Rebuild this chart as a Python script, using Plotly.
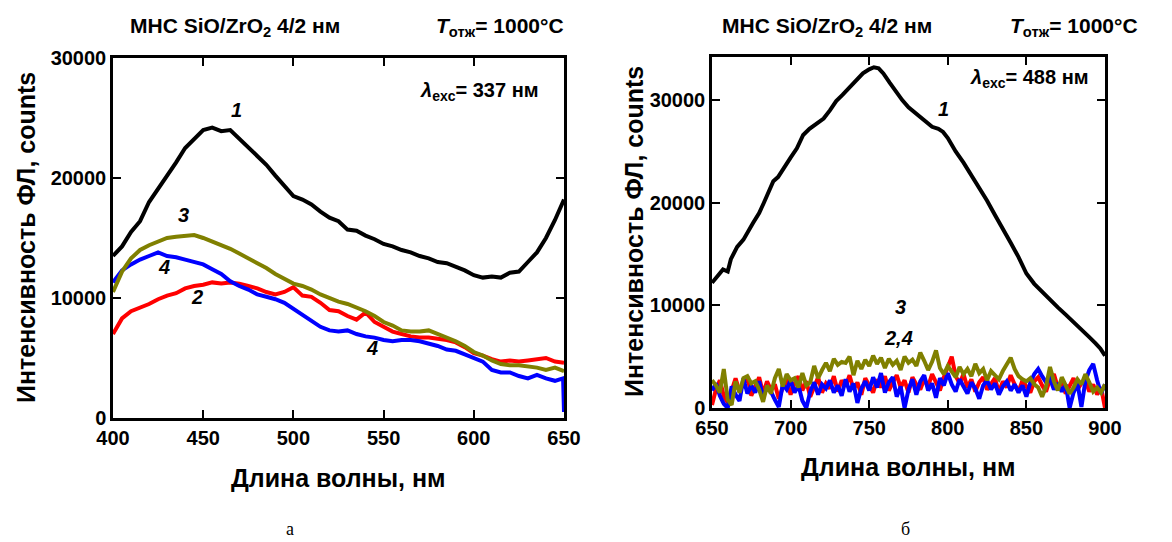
import plotly.graph_objects as go

# ---------------- data: panel a (excitation 337 nm) ----------------
wl_a = [400, 405, 410, 415, 420, 425, 430, 435, 440, 445, 450, 455, 460, 465, 470,
        475, 480, 485, 490, 495, 500, 505, 510, 515, 520, 525, 530, 535, 540, 545,
        550, 555, 560, 565, 570, 575, 580, 585, 590, 595, 600, 605, 610, 615, 620,
        625, 630, 635, 640, 645, 650]
a_curve1 = [13500, 14300, 15500, 16400, 18000, 19100, 20100, 21300, 22500, 23300, 24000,
            24200, 23900, 24000, 23300, 22600, 21900, 21100, 20200, 19300, 18500, 18200,
            17800, 17200, 16700, 16400, 15700, 15600, 15200, 14900, 14500, 14300, 14000,
            13800, 13500, 13300, 13000, 12900, 12600, 12300, 11900, 11700, 11800, 11700,
            12100, 12200, 13000, 13800, 15000, 16500, 18200]
a_curve2 = [7000, 8300, 8900, 9200, 9500, 9900, 10200, 10400, 10800, 11000, 11100, 11300,
            11200, 11300, 11200, 11000, 10800, 10500, 10300, 10500, 10900, 10200, 10100,
            9600, 9000, 8900, 8500, 8200, 8800, 8000, 7600, 7200, 7000, 6800, 6700, 6700,
            6600, 6500, 6300, 5900, 5400, 5200, 4900, 4700, 4800, 4700, 4800, 4900, 5000,
            4700, 4600]
a_curve3 = [10500, 12200, 13300, 14000, 14400, 14700, 15000, 15100, 15200, 15250, 15000,
            14700, 14400, 14100, 13700, 13300, 12900, 12500, 12000, 11600, 11200, 11000,
            10700, 10300, 10000, 9700, 9500, 9200, 8900, 8500, 8000, 7700, 7300, 7200,
            7200, 7300, 7000, 6700, 6400, 6000, 5500, 5200, 4800, 4500, 4400, 4400, 4300,
            4200, 4000, 4200, 3900]
wl_a4 = wl_a[:-1] + [649.5, 650]
a_curve4 = [11300, 12300, 12800, 13200, 13500, 13800, 13500, 13400, 13200, 13000, 12800,
            12400, 12000, 11400, 11000, 10700, 10300, 10100, 9900, 9600, 9100, 8700, 8200,
            7600, 7300, 7200, 7300, 7000, 6800, 6700, 6500, 6400, 6500, 6500, 6400, 6200,
            6000, 5700, 5600, 5300, 5000, 4700, 4000, 3800, 3800, 3500, 3300, 3600, 3300,
            3100, 3300, 500]

# ---------------- data: panel b (excitation 488 nm) ----------------
wl_b1 = [650, 653, 657, 660, 662, 666, 670, 676, 680, 683, 686, 689, 692, 696, 700, 704,
         708, 712, 716, 721, 725, 729, 733, 738, 742, 746, 750, 753, 756, 759, 763, 767,
         771, 775, 780, 785, 790, 794, 797, 800, 805, 810, 815, 820, 825, 830, 835, 840,
         845, 850, 855, 860, 865, 870, 875, 880, 885, 890, 894, 897, 900]
b_curve1 = [12200, 12700, 13500, 13300, 14500, 15700, 16400, 18000, 19000, 20000, 21000,
            22100, 22500, 23500, 24400, 25300, 26600, 27200, 27600, 28200, 29000, 29900,
            30500, 31300, 32000, 32600, 33000, 33200, 33100, 32600, 31700, 30800, 30000,
            29300, 28700, 28000, 27400, 27200, 26900, 26300, 25000, 23900, 22700, 21400,
            20200, 18800, 17500, 16100, 14700, 13100, 12100, 11300, 10500, 9800, 9100,
            8400, 7600, 6900, 6300, 5800, 5100]
wl_b = [650 + 2.5 * i for i in range(101)]
b_curve2 = [300, 1800, 2700, 1200, 500, 1700, 2900, 1600, 2400, 3100, 1200, 2000, 3000,
            1400, 2600, 1800, 2300, 900, 2000, 2800, 1300, 2400, 3100, 1700, 2600, 1100,
            2100, 3000, 1500, 2400, 1900, 3100, 1600, 2700, 2100, 3200, 1800, 2500, 1300,
            2900, 2200, 1500, 2800, 2000, 3100, 1700, 2500, 3200, 2000, 2700, 1500, 3000,
            2300, 1800, 2800, 2100, 3300, 2400, 1700, 3000, 4000, 5000, 3100, 2400, 3300,
            2000, 2800, 1600, 2500, 3000, 1800, 2300, 2900, 1500, 2600, 2000, 3200, 2300,
            1600, 2700, 2100, 1500, 2600, 3000, 2200, 1600, 2800, 3300, 2000, 2600, 1400,
            2200, 2900, 1800, 2400, 2700, 1600, 2300, 1300, 2000, 0]
b_curve3 = [2700, 2200, 1500, 3800, 800, 300, 2600, 1500, 2900, 3100, 2400, 2600, 1800,
            600, 2200, 1400, 2900, 3800, 2100, 3300, 2700, 2900, 2000, 3400, 2200, 2500,
            4100, 2900, 3700, 4400, 3600, 4800, 4200, 4500, 4400, 5000, 3200, 4600, 3800,
            4700, 4100, 5100, 4300, 4900, 3900, 4800, 4200, 4600, 3700, 5000, 4400, 4700,
            4100, 5400, 4600, 3700, 4500, 5600, 3900, 3300, 4100, 3500, 3000, 4000, 3300,
            3800, 3100, 4300, 3400, 3800, 2700, 3600, 3200, 2800, 3600, 4200, 4900, 3800,
            3100, 2800, 2600, 2900, 2300, 2000, 1100, 2100, 4000, 2600, 1700, 3000, 2200,
            1400, 2000, 2800, 2300, 3300, 2500, 1600, 2000, 1500, 2300]
b_curve4 = [1700, 2400, 1200, 400, 0, 2100, 1300, 700, 2900, 1400, 2200, 1500, 2600, 1100,
            2000, 1600, 800, 100, 2300, 1800, 2700, 1500, 2200, 700, 0, 1600, 2500, 1300,
            2300, 1900, 2700, 1500, 2200, 1200, 2800, 1600, 2400, 500, 1900, 2600, 1700,
            3000, 2000, 3400, 1500, 2500, 3000, 1100, 2100, 0, 1800, 2800, 1300, 2600, 3200,
            1700, 2400, 1000, 2900, 2200, 3400, 2300, 1600, 2800, 2100, 1400, 2500, 1900,
            900, 2200, 2700, 1800, 2400, 1300, 2100, 2600, 1700, 2300, 1500, 2200, 1100,
            2500, 3300, 3800, 3100, 2500, 2900, 1800, 2400, 1600, 2300, 0, 1500, 2400, 100,
            2600, 3700, 4300, 2700, 1400, 2300]

# axis ticks
xticks_a = [400, 450, 500, 550, 600, 650]
xticks_b = [650, 700, 750, 800, 850, 900]
yticks_a = [0, 10000, 20000, 30000]
yticks_b = [0, 10000, 20000, 30000]
ylabels = ["0", "10000", "20000", "30000"]

# page has an 8px body margin: figure is drawn 8px in from the window corner
OFF = 8
W, H = 1172 - OFF, 542 - OFF
def px(x):
    return (x - OFF) / W
def py(y):
    return 1 - (y - OFF) / H

FONT = "Liberation Sans"
C_BLACK, C_RED, C_BLUE, C_OLIVE = "#000000", "#ff0000", "#0000ff", "#808000"
LW = 4

fig = go.Figure()

def add(x, y, color, xa, ya):
    fig.add_trace(go.Scatter(x=x, y=y, mode="lines", line=dict(color=color, width=LW),
                             xaxis=xa, yaxis=ya, showlegend=False, hoverinfo="skip"))

add(wl_a, a_curve2, C_RED, "x", "y")
add(wl_a4, a_curve4, C_BLUE, "x", "y")
add(wl_a, a_curve3, C_OLIVE, "x", "y")
add(wl_a, a_curve1, C_BLACK, "x", "y")

add(wl_b, b_curve2, C_RED, "x2", "y2")
add(wl_b, b_curve4, C_BLUE, "x2", "y2")
add(wl_b, b_curve3, C_OLIVE, "x2", "y2")
add(wl_b1, b_curve1, C_BLACK, "x2", "y2")

tickfont = dict(family=FONT, size=20, color="black", weight="bold")
axcommon = dict(showgrid=False, zeroline=False, showline=True, linecolor="black",
                linewidth=2.5, mirror="ticks", ticks="inside", ticklen=8, tickwidth=2,
                tickcolor="black", tickfont=tickfont, automargin=False)

fig.update_layout(
    width=W, height=H, autosize=False, margin=dict(l=0, r=0, t=0, b=0, pad=0),
    paper_bgcolor="white", plot_bgcolor="white",
    xaxis=dict(domain=[px(113), px(564)], range=[400, 650], tickvals=xticks_a,
               anchor="y", **axcommon),
    yaxis=dict(domain=[py(418), py(58)], range=[0, 30000], tickvals=yticks_a,
               ticktext=ylabels, anchor="x", **axcommon),
    xaxis2=dict(domain=[px(712), px(1105)], range=[650, 900], tickvals=xticks_b,
                anchor="y2", **axcommon),
    yaxis2=dict(domain=[py(408), py(57)], range=[0, 34200], tickvals=yticks_b,
                ticktext=ylabels, anchor="x2", **axcommon),
)

def txt(x, y, s, size, xanchor="center", angle=0, family=FONT, bold=True, italic=False):
    fig.add_annotation(x=px(x), y=py(y), xref="paper", yref="paper", text=s,
                       showarrow=False, xanchor=xanchor, yanchor="middle", textangle=angle,
                       font=dict(family=family, size=size, color="black",
                                 weight="bold" if bold else "normal",
                                 style="italic" if italic else "normal"))

# titles
title_left = "МНС SiO/ZrO<sub>2</sub> 4/2 нм"
t_ann = "<i>T</i><sub>отж</sub>= 1000°C"
txt(128, 27, title_left, 21, xanchor="left")
txt(566, 27, t_ann, 21, xanchor="right")
txt(720, 27, title_left, 21, xanchor="left")
txt(1140, 27, t_ann, 21, xanchor="right")

txt(541, 92, "<i>λ</i><sub>exc</sub>= 337 нм", 20, xanchor="right")
txt(1091, 78, "<i>λ</i><sub>exc</sub>= 488 нм", 20, xanchor="right")

# curve labels
txt(236, 110, "1", 20, italic=True)
txt(183, 215, "3", 20, italic=True)
txt(164, 267, "4", 20, italic=True)
txt(197, 297, "2", 20, italic=True)
txt(372, 348, "4", 20, italic=True)
txt(943, 109, "1", 20, italic=True)
txt(900, 307, "3", 20, italic=True)
txt(899, 338, "2,4", 20, italic=True)

# axis titles
ytitle = "Интенсивность ФЛ, counts"
xtitle = "Длина волны, нм"
txt(26, 238, ytitle, 25, angle=-90)
txt(634, 232, ytitle, 25, angle=-90)
txt(338, 478, xtitle, 25)
txt(908, 467, xtitle, 25)

# captions
txt(290, 529, "а", 18, family="Liberation Serif", bold=False)
txt(905, 529, "б", 18, family="Liberation Serif", bold=False)

fig.write_html("out.html")
